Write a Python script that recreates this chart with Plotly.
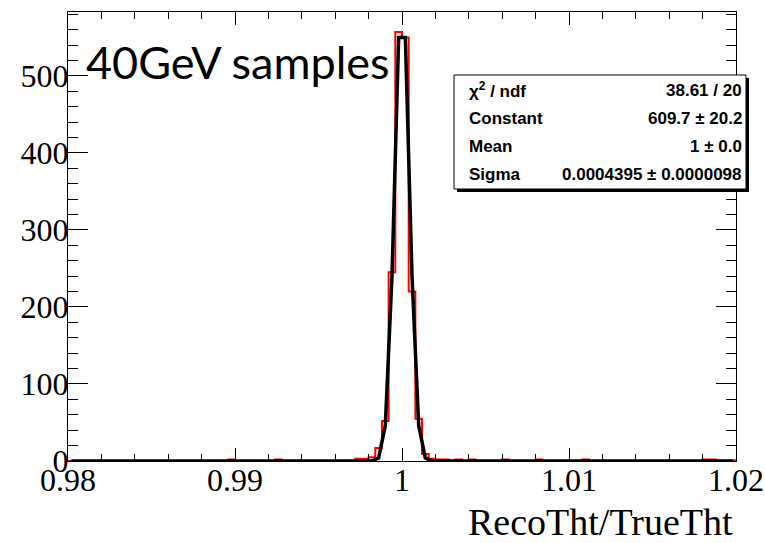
import numpy as np
import plotly.graph_objects as go

# ---------------- data ----------------
hist_lo, hist_hi, n_bins = 0.98, 1.02, 100          # histogram binning
filled_bins = [24, 31, 43, 44, 45, 46, 47, 48, 49, 50, 51, 52, 53, 54, 55, 56,
               58, 60, 65, 70, 77, 95, 96, 99]        # index of non-empty bins
filled_counts = [2, 2, 3, 3, 5, 17, 52, 245, 557, 550, 220, 55, 9, 3, 2, 2,
                 2, 2, 2, 2, 2, 2, 2, 1]

# Gaussian fit shown in the stats box
fit_constant = 609.7
fit_mean = 1.0
fit_sigma = 0.0004395
fit_npx = 100

stat_names = ["χ<sup>2</sup> / ndf", "Constant", "Mean", "Sigma"]
stat_values = ["38.61 / 20", "609.7 ± 20.2", "1 ± 0.0", "0.0004395 ± 0.0000098"]

x_tickvals = [0.98, 0.99, 1.00, 1.01, 1.02]
x_ticktext = ["0.98", "0.99", "1", "1.01", "1.02"]
y_tickvals = [0, 100, 200, 300, 400, 500]
y_ticktext = ["0", "100", "200", "300", "400", "500"]
y_max = 583
x_title = "RecoTht/TrueTht"
label_text = "40GeV samples"

# ---------------- build histogram ----------------
edges = np.linspace(hist_lo, hist_hi, n_bins + 1)
counts = np.zeros(n_bins)
counts[filled_bins] = filled_counts
hx = [hist_lo] + list(edges[:-1]) + [hist_hi, hist_hi]
hy = [0] + list(counts) + [counts[-1], 0]

# fit curve sampled as ROOT does (bin centres of npx bins)
fdx = (hist_hi - hist_lo) / fit_npx
fx = hist_lo + (np.arange(fit_npx) + 0.5) * fdx
fy = fit_constant * np.exp(-0.5 * ((fx - fit_mean) / fit_sigma) ** 2)

fig = go.Figure()
fig.add_trace(go.Scatter(x=hx, y=hy, mode="lines", line=dict(color="#ff0000", width=2, shape="hv"),
                         hoverinfo="skip", showlegend=False))
fig.add_trace(go.Scatter(x=fx, y=fy, mode="lines", line=dict(color="black", width=3.5),
                         hoverinfo="skip", showlegend=False))

W, H = 765, 543
L, R, T, B = 68, 29, 12, 82
pw, ph = W - L - R, H - T - B


def px_x(p):
    return (p - L) / pw


def px_y(p):
    return 1 - (p - T) / ph


serif = "Liberation Serif, Times New Roman, serif"
axis_common = dict(showline=True, linecolor="black", linewidth=1, mirror="ticks",
                   showgrid=False, zeroline=False, ticks="inside", tickcolor="black",
                   tickwidth=1, automargin=False,
                   tickfont=dict(family=serif, size=32, color="black"))

fig.update_xaxes(range=[hist_lo, hist_hi], tickvals=x_tickvals, ticktext=x_ticktext,
                 ticklen=13, minor=dict(dtick=0.002, tick0=0.98, ticks="inside", ticklen=7,
                                        tickcolor="black", tickwidth=1),
                 ticklabelstandoff=-9, **axis_common)
fig.update_yaxes(range=[0, y_max], tickvals=y_tickvals, ticktext=y_ticktext,
                 ticklen=20, minor=dict(dtick=20, tick0=0, ticks="inside", ticklen=10,
                                        tickcolor="black", tickwidth=1),
                 ticklabelstandoff=-8, **axis_common)

# stats box (with ROOT-like shadow)
bx0, bx1, by0, by1 = 454, 746, 75, 189
shapes = [
    dict(type="rect", xref="paper", yref="paper", x0=px_x(bx0 + 3), x1=px_x(bx1 + 3),
         y0=px_y(by1 + 3), y1=px_y(by0 + 3), fillcolor="black", line=dict(width=0), layer="above"),
    dict(type="rect", xref="paper", yref="paper", x0=px_x(bx0), x1=px_x(bx1),
         y0=px_y(by1), y1=px_y(by0), fillcolor="white", line=dict(color="black", width=1), layer="above"),
]
annotations = []
row_y = [90, 118, 146.5, 174.5]
sans = "Liberation Sans, Arial, sans-serif"
for name, val, yy in zip(stat_names, stat_values, row_y):
    annotations.append(dict(xref="paper", yref="paper", x=px_x(467), y=px_y(yy), text="<b>%s</b>" % name,
                            showarrow=False, xanchor="left", yanchor="middle",
                            font=dict(family=sans, size=17, color="black")))
    annotations.append(dict(xref="paper", yref="paper", x=px_x(744), y=px_y(yy), text="<b>%s</b>" % val,
                            showarrow=False, xanchor="right", yanchor="middle",
                            font=dict(family=sans, size=17, color="black")))

annotations.append(dict(xref="paper", yref="paper", x=px_x(735), y=px_y(522), text=x_title,
                        showarrow=False, xanchor="right", yanchor="middle",
                        font=dict(family=serif, size=38, color="black")))
annotations.append(dict(xref="paper", yref="paper", x=px_x(84), y=px_y(62), text=label_text,
                        showarrow=False, xanchor="left", yanchor="middle",
                        font=dict(family="Lato, Carlito, Calibri, sans-serif", size=45, color="black")))

fig.update_layout(width=W, height=H, margin=dict(l=L, r=R, t=T, b=B, autoexpand=False),
                  paper_bgcolor="white", plot_bgcolor="white",
                  shapes=shapes, annotations=annotations, showlegend=False)

fig.write_html("out.html", config={"displayModeBar": False},
               post_script="document.body.style.margin='0';document.body.style.overflow='hidden';")
